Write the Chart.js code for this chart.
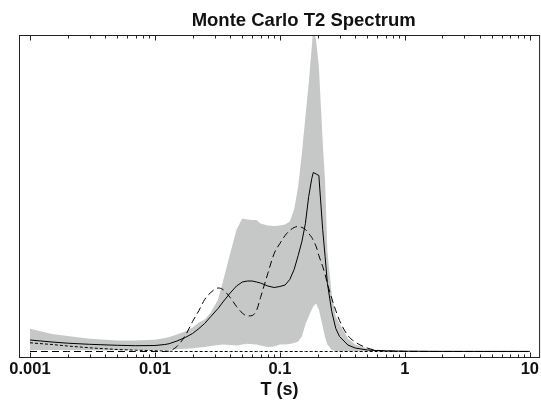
<!DOCTYPE html>
<html>
<head>
<meta charset="utf-8">
<title>Monte Carlo T2 Spectrum</title>
<script src="https://cdn.jsdelivr.net/npm/chart.js@4.4.1/dist/chart.umd.min.js"></script>
<style>
    html, body { margin: 0; padding: 0; background: #fff; }
    #chart { display: block; }
</style>
</head>
<body>
<canvas id="chart" width="541" height="401"></canvas>
<script>
// T2 relaxation times (s)
var t2Times = [0.001, 0.0015, 0.002, 0.003, 0.005, 0.007, 0.01, 0.012, 0.013, 0.015, 0.0175,
    0.02, 0.0225, 0.025, 0.028, 0.032, 0.035, 0.04, 0.045, 0.05, 0.055, 0.06, 0.065, 0.07,
    0.08, 0.09, 0.1, 0.11, 0.12, 0.13, 0.14, 0.15, 0.16, 0.17, 0.18, 0.185, 0.195, 0.205,
    0.22, 0.23, 0.24, 0.26, 0.28, 0.3, 0.35, 0.4, 0.5, 0.6, 0.8, 1, 2, 5, 10];

// Monte Carlo envelope (arbitrary amplitude)
var bandUpper = [22.7, 17.5, 15.5, 12.7, 11, 11, 11.7, 13.5, 14.5, 17, 20,
    24, 29, 32, 39, 52, 70, 98, 122, 133, 132, 131.5, 131.5, 128,
    126, 125.5, 126, 127, 130, 142, 165, 198, 235, 268, 305, 325, 311, 285,
    210, 170, 100, 57, 35, 28, 13, 7, 3, 1.5, 0.8, 0.6, 0.4, 0.3, 0.3];
var bandLower = [1.5, 1.4, 1.3, 1.2, 1.2, 1.2, 1.2, 1.5, 1.7, 2.2, 2.8,
    3.3, 4, 4.5, 5.5, 6.5, 7, 6.5, 6, 7, 7.7, 7.3, 7, 6,
    4.5, 5, 7, 7, 7.5, 8.5, 10, 15, 27, 35, 42, 45, 48, 42,
    25, 14, 7, 1.5, 0.5, 0.3, 0.3, 0.3, 0.3, 0.3, 0.3, 0.3, 0.3, 0.3, 0.3];

// mean of the inversions (solid)
var meanSpectrum = [11.5, 9.5, 8.3, 7.2, 6.2, 5.8, 6, 7, 7.8, 10.5, 14,
    18, 23, 28, 35, 43, 49.5, 58.5, 65.5, 69.5, 70.5, 70.5, 69.5, 68.5,
    65.5, 64, 65, 66.5, 72, 82, 96, 110, 128, 155, 173, 179, 177.5, 176,
    122, 95, 68, 40, 23, 15, 6.5, 3.5, 1.5, 0.9, 0.5, 0.3, 0.15, 0.1, 0.1];

// true spectrum (long dash)
var trueSpectrum = [0, 0, 0, 0, 0, 0, 0, 0, 0.5, 5, 16,
    30, 41, 52, 59, 63.5, 62, 54, 45, 38.5, 35.5, 36, 41, 54,
    78, 98, 108, 116, 121, 124, 125, 124, 122, 118, 114, 111, 105, 96,
    85, 77, 68, 53, 41, 31, 16, 9.5, 3.5, 1.2, 0.4, 0.2, 0, 0, 0];

// starting guess (short dash)
var startSpectrum = [8.7, 7, 5.5, 3.7, 2, 1.3, 0.8, 0.5, 0.3, 0, 0,
    0, 0, 0, 0, 0, 0, 0, 0, 0, 0, 0, 0, 0,
    0, 0, 0, 0, 0, 0, 0, 0, 0, 0, 0, 0, 0, 0,
    0, 0, 0, 0, 0, 0, 0, 0, 0, 0, 0, 0, 0, 0, 0];

var tickValues = [0.001, 0.01, 0.1, 1, 10];
var tickLabels = ['0.001', '0.01', '0.1', '1', '10'];

var fontFamily = '"Liberation Sans", Arial, Helvetica, sans-serif';

function toPoints(values) {
    return t2Times.map(function(t, i) {
        return { x: t, y: values[i] };
    });
}

// Mathematica style frame, ticks pointing inwards on top and bottom
var frameTicks = {
    id: 'frameTicks',
    afterDatasetsDraw: function(chart) {
        var ctx = chart.ctx;
        var area = chart.chartArea;
        var xs = chart.scales.x;
        var top = area.top + 0.5, bottom = area.bottom - 0.5;
        ctx.save();
        ctx.strokeStyle = '#222';
        ctx.lineWidth = 1;
        ctx.strokeRect(area.left + 0.5, top, area.right - area.left - 1, bottom - top);
        ctx.beginPath();
        tickValues.forEach(function(decade, i) {
            for (var m = 1; m <= 9; m++) {
                if (i === tickValues.length - 1 && m > 1) break;
                var px = Math.round(xs.getPixelForValue(decade * m)) + 0.5;
                var len = m === 1 ? 5 : 3;
                ctx.moveTo(px, top);
                ctx.lineTo(px, top + len);
                ctx.moveTo(px, bottom);
                ctx.lineTo(px, bottom - len);
            }
        });
        ctx.stroke();
        ctx.restore();
    }
};

var plotTitle = {
    id: 'plotTitle',
    afterDraw: function(chart) {
        var ctx = chart.ctx;
        ctx.save();
        ctx.fillStyle = '#111';
        ctx.font = 'bold 18.5px ' + fontFamily;
        ctx.textAlign = 'center';
        ctx.textBaseline = 'alphabetic';
        ctx.fillText('Monte Carlo T2 Spectrum', 303.7, 26);
        ctx.restore();
    }
};

new Chart(document.getElementById('chart'), {
    type: 'line',
    data: {
        datasets: [{
            label: 'Mean',
            data: toPoints(meanSpectrum),
            borderColor: '#000',
            borderWidth: 1,
            pointRadius: 0,
            fill: false
        }, {
            label: 'True',
            data: toPoints(trueSpectrum),
            borderColor: '#000',
            borderWidth: 1,
            borderDash: [7, 4],
            cubicInterpolationMode: 'monotone',
            pointRadius: 0,
            fill: false
        }, {
            label: 'Start',
            data: toPoints(startSpectrum),
            borderColor: '#000',
            borderWidth: 1,
            borderDash: [3, 2],
            pointRadius: 0,
            fill: false
        }, {
            label: 'Upper',
            data: toPoints(bandUpper),
            borderColor: 'rgba(0,0,0,0)',
            borderWidth: 0,
            backgroundColor: '#c6c7c7',
            pointRadius: 0,
            fill: '+1'
        }, {
            label: 'Lower',
            data: toPoints(bandLower),
            borderColor: 'rgba(0,0,0,0)',
            borderWidth: 0,
            pointRadius: 0,
            fill: false
        }]
    },
    options: {
        responsive: false,
        animation: false,
        devicePixelRatio: 1,
        layout: { padding: { top: 35, left: 19, right: 0, bottom: 0 } },
        plugins: {
            legend: { display: false },
            tooltip: { enabled: false },
            title: { display: false }
        },
        scales: {
            x: {
                type: 'logarithmic',
                min: 0.000817,
                max: 12.08,
                afterBuildTicks: function(scale) {
                    scale.ticks = tickValues.map(function(v) { return { value: v }; });
                },
                afterFit: function(scale) {
                    scale.height = 43;
                },
                grid: { display: false, drawTicks: false },
                border: { display: false },
                ticks: {
                    autoSkip: false,
                    maxRotation: 0,
                    padding: 2,
                    color: '#111',
                    font: { family: fontFamily, size: 16.5, weight: 'bold' },
                    callback: function(value) {
                        var i = tickValues.indexOf(value);
                        return i >= 0 ? tickLabels[i] : '';
                    }
                },
                title: {
                    display: true,
                    text: 'T (s)',
                    color: '#111',
                    font: { family: fontFamily, size: 18, weight: 'bold' },
                    padding: { top: 0, bottom: 0 }
                }
            },
            y: {
                display: false,
                min: -6.5,
                max: 316.5
            }
        }
    },
    plugins: [frameTicks, plotTitle]
});
</script>
</body>
</html>
